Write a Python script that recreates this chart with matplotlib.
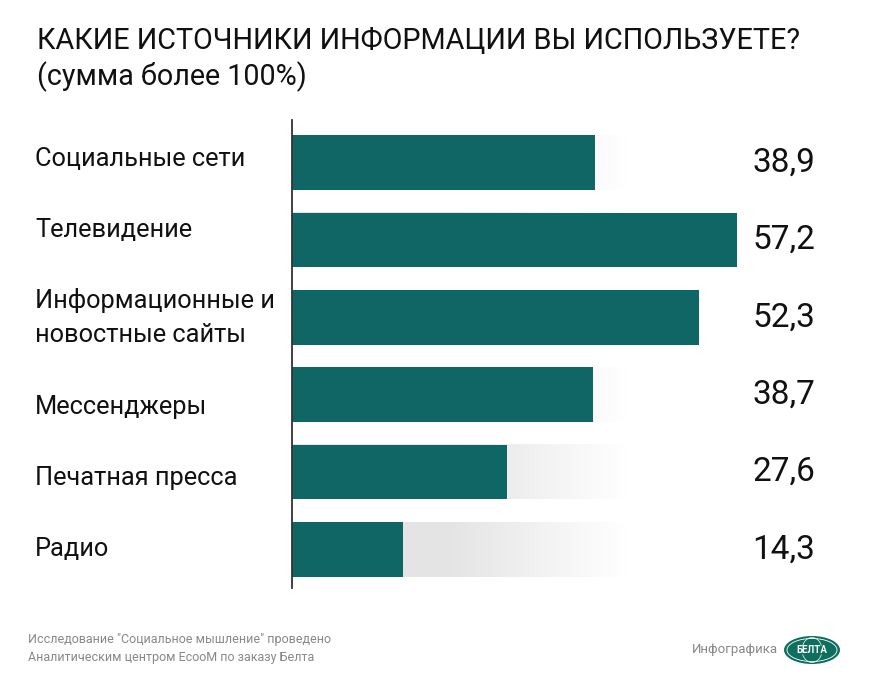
import matplotlib
matplotlib.use('Agg')
import matplotlib.pyplot as plt
import numpy as np
from matplotlib.colors import LinearSegmentedColormap
from matplotlib.patches import Ellipse
import matplotlib.transforms as mtransforms

# данные
categories = ['Социальные сети', 'Телевидение', 'Информационные и\nновостные сайты',
              'Мессенджеры', 'Печатная пресса', 'Радио']
values = [38.9, 57.2, 52.3, 38.7, 27.6, 14.3]
value_labels = ['38,9', '57,2', '52,3', '38,7', '27,6', '14,3']

title = 'КАКИЕ ИСТОЧНИКИ ИНФОРМАЦИИ ВЫ ИСПОЛЬЗУЕТЕ?'
subtitle = '(сумма более 100%)'
source = 'Исследование "Социальное мышление" проведено\nАналитическим центром EcooM по заказу Белта'

BAR_COLOR = '#0f6664'
W, H = 870, 694
# сдвиг подписей категорий по вертикали (px), как в оригинале
label_dy = [-4, -10, 0, 12, 6, 0]

plt.rcParams['font.family'] = ['Roboto', 'DejaVu Sans']

fig = plt.figure(figsize=(W / 100, H / 100), dpi=100)
fig.patch.set_facecolor('white')

# оси: x от 292 px, y от 124 до 588 px
ax = fig.add_axes([292 / W, 1 - 588 / H, (W - 292) / W, (588 - 124) / H])
xmax = (W - 292) / 7.78
ax.axis('off')

# серый градиентный фон за столбиками
grad_end = 43
xs = np.linspace(0, 1, 256)
shade = np.clip((xs * grad_end - 20) / (grad_end - 20), 0, 1)
gray_cmap = LinearSegmentedColormap.from_list('g', ['#e4e4e4', '#ffffff'])
bar_h = 0.71
for i in range(len(values)):
    ax.imshow(shade[np.newaxis, :], cmap=gray_cmap, vmin=0, vmax=1, aspect='auto',
              extent=[0, grad_end, i + bar_h / 2, i - bar_h / 2], zorder=1)

ax.barh(range(len(values)), values, height=bar_h, color=BAR_COLOR, zorder=2)
ax.set_xlim(0, xmax)
ax.set_ylim(len(values) - 0.5, -0.5)

# вертикальная линия оси
fig.add_artist(plt.Line2D([292 / W, 292 / W], [1 - 588 / H, 1 - 120 / H],
                          color='#333333', lw=1.3))

trans = mtransforms.blended_transform_factory(fig.transFigure, ax.transData)
for i, (cat, lab) in enumerate(zip(categories, value_labels)):
    off = mtransforms.offset_copy(trans, fig=fig, x=0, y=-label_dy[i], units='dots')
    ax.text(35 / W, i, cat, transform=off, ha='left', va='center',
            fontsize=18.3, color='#111111', linespacing=1.5)
    ax.text(815 / W, i, lab, transform=trans, ha='right', va='center',
            fontsize=24, color='#111111')

fig.text(37 / W, 1 - 41 / H, title, ha='left', va='center', fontsize=20.7,
         color='#111111')
fig.text(37 / W, 1 - 77 / H, subtitle, ha='left', va='center', fontsize=20.7,
         color='#111111')

fig.text(28 / W, 1 - 649 / H, source, ha='left', va='center', fontsize=9,
         color='#888888', linespacing=1.5)
fig.text(778 / W, 1 - 650 / H, 'Инфографика', ha='right', va='center', fontsize=9.5,
         color='#888888')

# логотип БЕЛТА
cx, cy = 812 / W, 1 - 650 / H
fig.add_artist(Ellipse((cx, cy), 56 / W, 28 / H, transform=fig.transFigure,
                       facecolor='#0f6f5e', edgecolor='none'))
fig.add_artist(Ellipse((cx, cy), 50 / W, 23 / H, transform=fig.transFigure,
                       facecolor='none', edgecolor='white', lw=0.6))
fig.add_artist(Ellipse((cx, cy), 20 / W, 25 / H, transform=fig.transFigure,
                       facecolor='none', edgecolor='white', lw=0.5))
fig.add_artist(Ellipse((cx, cy), 42 / W, 10 / H, transform=fig.transFigure,
                       facecolor='#0f6f5e', edgecolor='none'))
fig.text(cx, cy, 'БЕЛТА', ha='center', va='center', fontsize=7,
         color='white', fontweight='bold')

fig.savefig('out.png', dpi=100, facecolor='white')
